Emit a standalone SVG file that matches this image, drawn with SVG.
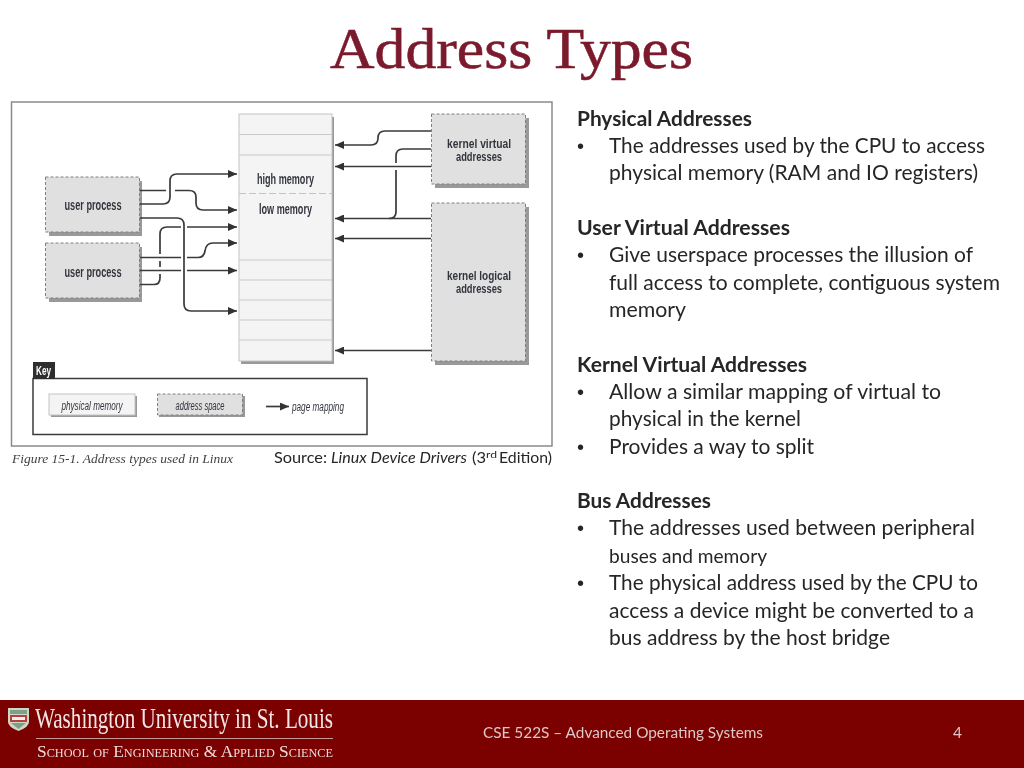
<svg xmlns="http://www.w3.org/2000/svg" width="1024" height="768" viewBox="0 0 1024 768">
<style>
.b{font-family:Lato,"Open Sans","Liberation Sans",sans-serif;font-size:20.5px;fill:#262626}
.u{font-family:"Liberation Sans",sans-serif;font-size:20px;fill:#262626}
.h{font-weight:700}
.d{font-family:"Liberation Sans",Arial,sans-serif;font-weight:700;font-size:14px;fill:#33363e}
.d2{font-family:"Liberation Sans",Arial,sans-serif;font-weight:700;font-size:12px;fill:#33363e}
.k{font-family:"Liberation Sans",Arial,sans-serif;font-style:italic;font-size:12.5px;fill:#33363e}
.as{fill:#e0e0e0;stroke:#808080;stroke-width:1;stroke-dasharray:3 2}
.pm{fill:#f4f4f4;stroke:#c4c4c4;stroke-width:1}
.sh{fill:#808080;opacity:.8}
.ln{stroke:#c9c9c9;stroke-width:1}
.c{fill:none;stroke:#3a3a3a;stroke-width:1.7}
.f{font-family:Lato,"Open Sans",sans-serif;font-size:14.5px;fill:#dcc8c8}
</style>
<defs>
<marker id="ar" markerUnits="userSpaceOnUse" markerWidth="9" markerHeight="8" refX="9" refY="4" orient="auto"><path d="M0 0L9 4L0 8Z" fill="#333"/></marker>
<filter id="soft" x="-5%" y="-5%" width="110%" height="110%"><feGaussianBlur stdDeviation="0.4"/></filter>
</defs>
<rect width="1024" height="768" fill="#fff"/>
<text x="330" y="68" font-family="Liberation Serif,serif" font-size="58" fill="#7a1a2c" stroke="#7a1a2c" stroke-width=".6" textLength="363" lengthAdjust="spacingAndGlyphs">Address Types</text>

<rect x="11.500" y="102" width="540.500" height="344" fill="#fff" stroke="#8a8a8a" stroke-width="1.500"/>

<g filter="url(#soft)">
<g id="physical-memory">
<rect class="sh" x="241" y="117" width="93" height="247"/>
<rect class="pm" x="239" y="114" width="93" height="247"/>
<path class="ln" d="M239 134.500H332M239 155H332M239 260H332M239 280H332M239 300H332M239 320H332M239 340H332"/>
<path d="M239 193.500H332" stroke="#c4c4c4" stroke-width="1" stroke-dasharray="7 3"/>
<text class="d" x="257" y="184" textLength="57" lengthAdjust="spacingAndGlyphs">high memory</text>
<text class="d" x="259" y="214" textLength="53" lengthAdjust="spacingAndGlyphs">low memory</text>
</g>

<g id="user-process-1">
<rect class="sh" x="49" y="181" width="93" height="55"/>
<rect class="as" x="45.500" y="177" width="94" height="55"/>
<text class="d" x="64.500" y="210" textLength="57" lengthAdjust="spacingAndGlyphs">user process</text>
</g>
<g id="user-process-2">
<rect class="sh" x="49" y="247" width="93" height="55"/>
<rect class="as" x="45.500" y="243" width="94" height="55"/>
<text class="d" x="64.500" y="277" textLength="57" lengthAdjust="spacingAndGlyphs">user process</text>
</g>
<g id="kernel-virtual">
<rect class="sh" x="435" y="118" width="94" height="70"/>
<rect class="as" x="431.500" y="114" width="94" height="70"/>
<text class="d2" x="447" y="148" textLength="64" lengthAdjust="spacingAndGlyphs">kernel virtual</text>
<text class="d2" x="456" y="160.500" textLength="46" lengthAdjust="spacingAndGlyphs">addresses</text>
</g>
<g id="kernel-logical">
<rect class="sh" x="435" y="207" width="94" height="158"/>
<rect class="as" x="431.500" y="203" width="94" height="158"/>
<text class="d2" x="447" y="280" textLength="64" lengthAdjust="spacingAndGlyphs">kernel logical</text>
<text class="d2" x="456" y="292.500" textLength="46" lengthAdjust="spacingAndGlyphs">addresses</text>
</g>

<g id="connectors">
<path class="c" marker-end="url(#ar)" d="M140 204H163Q170 204 170 197V181Q170 174 177 174H237"/>
<path class="c" d="M140 190.500H166M175 190.500H189Q196 190.500 196 197V203Q196 210 203 210"/>
<path class="c" marker-end="url(#ar)" d="M203 210H237"/>
<path class="c" marker-end="url(#ar)" d="M140 218H177Q184 218 184 225V304Q184 311 191 311H237"/>
<path class="c" d="M140 284.500H154Q160 284.500 160 278V274M160 267V261M160 254V234Q160 227 167 227H181"/>
<path class="c" marker-end="url(#ar)" d="M187 227H237"/>
<path class="c" d="M140 257.500H181"/>
<path class="c" marker-end="url(#ar)" d="M187 257.500H198Q204 257.500 205 251Q206 243 213 243H237"/>
<path class="c" d="M140 270.500H181"/>
<path class="c" marker-end="url(#ar)" d="M187 270.500H237"/>
<path class="c" marker-end="url(#ar)" d="M431 131H385Q378 131 378 138Q378 145 371 145H335"/>
<path class="c" marker-end="url(#ar)" d="M431 166.500H335"/>
<path class="c" d="M431 149H403Q396 149 396 156V163M396 170V212Q396 218.500 389 218.500"/>
<path class="c" stroke-width="2" marker-end="url(#ar)" d="M431 218.500H335"/>
<path class="c" marker-end="url(#ar)" d="M431 238.500H335"/>
<path class="c" marker-end="url(#ar)" d="M431 350.500H335"/>
</g>

<g id="key">
<rect x="33" y="378.500" width="334" height="56" fill="#fff" stroke="#3a3a3a" stroke-width="1.500"/>
<rect x="33" y="362" width="22" height="17" fill="#2e2e2e"/>
<text x="36" y="375" font-family="Liberation Sans,sans-serif" font-weight="700" font-size="12" fill="#fff" textLength="15" lengthAdjust="spacingAndGlyphs">Key</text>
<rect class="sh" x="51" y="396" width="86" height="21"/>
<rect class="pm" x="49" y="394" width="86" height="21"/>
<text class="k" x="61.500" y="410" textLength="61" lengthAdjust="spacingAndGlyphs">physical memory</text>
<rect class="sh" x="159" y="396" width="86" height="21"/>
<rect class="as" x="157.500" y="394" width="85" height="21"/>
<text class="k" x="175.500" y="410" textLength="49" lengthAdjust="spacingAndGlyphs">address space</text>
<path class="c" marker-end="url(#ar)" d="M266 406.500H289"/>
<text class="k" x="292" y="411" textLength="52" lengthAdjust="spacingAndGlyphs">page mapping</text>
</g>
</g>

<text x="12" y="463" font-family="Liberation Serif,serif" font-style="italic" font-size="13.500" fill="#404040" textLength="221" lengthAdjust="spacingAndGlyphs">Figure 15-1. Address types used in Linux</text>
<g font-family="Lato,'Open Sans',sans-serif" font-size="14.500" fill="#262626">
<text x="274" y="463" textLength="53" lengthAdjust="spacingAndGlyphs">Source:</text>
<text x="331" y="463" font-style="italic" textLength="136" lengthAdjust="spacingAndGlyphs">Linux Device Drivers</text>
<text x="472" y="463" textLength="14" lengthAdjust="spacingAndGlyphs">(3</text>
<text x="486" y="458" font-size="10" textLength="11" lengthAdjust="spacingAndGlyphs">rd</text>
<text x="499" y="463" textLength="53" lengthAdjust="spacingAndGlyphs">Edition)</text>
</g>

<g id="text-panel">
<text class="b h" x="577" y="126" textLength="175" lengthAdjust="spacingAndGlyphs">Physical Addresses</text>
<text class="u" x="577" y="153">•</text>
<text class="b" x="609" y="153" textLength="376" lengthAdjust="spacingAndGlyphs">The addresses used by the CPU to access</text>
<text class="b" x="609" y="180" textLength="369" lengthAdjust="spacingAndGlyphs">physical memory (RAM and IO registers)</text>
<text class="b h" x="577" y="235" textLength="213" lengthAdjust="spacingAndGlyphs">User Virtual Addresses</text>
<text class="u" x="577" y="262">•</text>
<text class="b" x="609" y="262" textLength="364" lengthAdjust="spacingAndGlyphs">Give userspace processes the illusion of</text>
<text class="b" x="609" y="290" textLength="391" lengthAdjust="spacingAndGlyphs">full access to complete, contiguous system</text>
<text class="b" x="609" y="317" textLength="77" lengthAdjust="spacingAndGlyphs">memory</text>
<text class="b h" x="577" y="372" textLength="230" lengthAdjust="spacingAndGlyphs">Kernel Virtual Addresses</text>
<text class="u" x="577" y="399">•</text>
<text class="b" x="609" y="399" textLength="332" lengthAdjust="spacingAndGlyphs">Allow a similar mapping of virtual to</text>
<text class="b" x="609" y="426" textLength="192" lengthAdjust="spacingAndGlyphs">physical in the kernel</text>
<text class="u" x="577" y="454">•</text>
<text class="b" x="609" y="454" textLength="205" lengthAdjust="spacingAndGlyphs">Provides a way to split</text>
<text class="b h" x="577" y="508" textLength="134" lengthAdjust="spacingAndGlyphs">Bus Addresses</text>
<text class="u" x="577" y="535">•</text>
<text class="b" x="609" y="535" textLength="366" lengthAdjust="spacingAndGlyphs">The addresses used between peripheral</text>
<text class="b" x="609" y="563" font-size="19.500" style="font-size:19.500px" textLength="158" lengthAdjust="spacingAndGlyphs">buses and memory</text>
<text class="u" x="577" y="590">•</text>
<text class="b" x="609" y="590" textLength="369" lengthAdjust="spacingAndGlyphs">The physical address used by the CPU to</text>
<text class="b" x="609" y="618" textLength="365" lengthAdjust="spacingAndGlyphs">access a device might be converted to a</text>
<text class="b" x="609" y="645" textLength="281" lengthAdjust="spacingAndGlyphs">bus address by the host bridge</text>
</g>

<g id="footer">
<rect y="700" width="1024" height="68" fill="#7b0000"/>
<path d="M8 708H29V722Q29 727 18.500 731Q8 727 8 722Z" fill="#cfd6c6"/>
<rect x="10" y="710" width="17" height="4" fill="#7fa088"/>
<rect x="10" y="715" width="17" height="7" fill="#b5423f"/>
<rect x="12" y="717" width="13" height="3" fill="#eee"/>
<path d="M11 723H26L18.500 729Z" fill="#7fa088"/>
<text x="35" y="728" font-family="Liberation Serif,serif" font-size="29" fill="#f3e6e6" textLength="298" lengthAdjust="spacingAndGlyphs">Washington University in St. Louis</text>
<rect x="36" y="738" width="297" height="1" fill="#c79a9a"/>
<text x="37" y="757" font-family="Liberation Serif,serif" font-size="17" font-variant="small-caps" fill="#ecdcdc" textLength="296" lengthAdjust="spacingAndGlyphs">School of Engineering &amp; Applied Science</text>
<text class="f" x="483" y="738" textLength="280" lengthAdjust="spacingAndGlyphs">CSE 522S – Advanced Operating Systems</text>
<text class="f" x="953" y="738" textLength="9" lengthAdjust="spacingAndGlyphs">4</text>
</g>
</svg>
